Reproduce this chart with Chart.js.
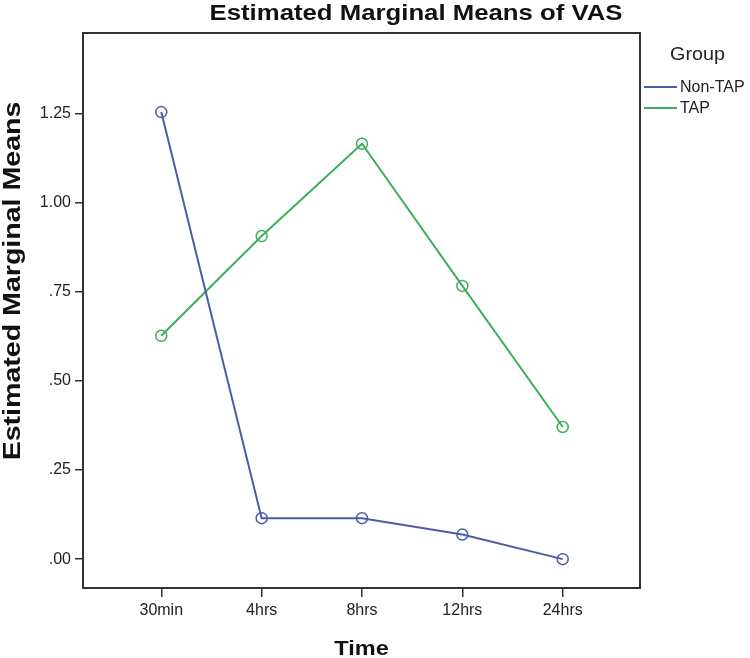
<!DOCTYPE html>
<html>
<head>
<meta charset="utf-8">
<script src="https://cdn.jsdelivr.net/npm/chart.js@4/dist/chart.umd.min.js"></script>
<style>
  html, body { margin: 0; padding: 0; background: #fff; }
  #wrap { width: 750px; height: 658px; }
</style>
</head>
<body>
<div id="wrap"><canvas id="c" width="750" height="658"></canvas></div>
<script>
const categories = ['30min', '4hrs', '8hrs', '12hrs', '24hrs'];
const nonTapValues = [1.255, 0.115, 0.115, 0.069, 0.0];
const tapValues = [0.627, 0.907, 1.166, 0.767, 0.371];
const yTickValues = [0, 0.25, 0.5, 0.75, 1.0, 1.25];
const seriesNames = ['Non-TAP', 'TAP'];
const chartTitle = 'Estimated Marginal Means of VAS';
const xTitle = 'Time';
const yTitle = 'Estimated Marginal Means';
const legendTitle = 'Group';

const FONT = "'Liberation Sans', Arial, sans-serif";
const C_NON = '#4e5ca6';
const C_TAP = '#3daf5a';
const AXIS = '#333333';

function fmt(v) {
  const s = v.toFixed(2);
  return v < 1 ? s.replace(/^0/, '') : s;
}

function drawStretched(ctx, text, x, y, font, sx, align) {
  ctx.save();
  ctx.font = font;
  const w = ctx.measureText(text).width * sx;
  let left = x;
  if (align === 'center') left = x - w / 2;
  ctx.translate(left, y);
  ctx.scale(sx, 1);
  ctx.textAlign = 'left';
  ctx.fillText(text, 0, 0);
  ctx.restore();
}

const decor = {
  id: 'decor',
  beforeDatasetsDraw(chart) {
    const { ctx, chartArea: a } = chart;
    ctx.save();
    ctx.strokeStyle = AXIS;
    ctx.lineWidth = 2;
    ctx.strokeRect(a.left, a.top, a.right - a.left, a.bottom - a.top);
    ctx.restore();
  },
  afterDraw(chart) {
    const { ctx, chartArea: a } = chart;
    ctx.save();
    ctx.fillStyle = '#111';
    ctx.textBaseline = 'alphabetic';
    // main title
    drawStretched(ctx, chartTitle, 416, 20, 'bold 22px ' + FONT, 1.17, 'center');
    // x axis title
    drawStretched(ctx, xTitle, (a.left + a.right) / 2, 655, 'bold 21px ' + FONT, 1.12, 'center');
    // y axis title
    ctx.save();
    ctx.translate(20, 281);
    ctx.rotate(-Math.PI / 2);
    drawStretched(ctx, yTitle, 0, 0, 'bold 24px ' + FONT, 1.19, 'center');
    ctx.restore();
    // legend
    ctx.fillStyle = '#222';
    drawStretched(ctx, legendTitle, 670, 60, '18px ' + FONT, 1.1, 'left');
    const items = [
      { name: seriesNames[0], color: C_NON, y: 87 },
      { name: seriesNames[1], color: C_TAP, y: 108 }
    ];
    items.forEach(it => {
      ctx.strokeStyle = it.color;
      ctx.lineWidth = 2;
      ctx.beginPath();
      ctx.moveTo(644, it.y);
      ctx.lineTo(677, it.y);
      ctx.stroke();
      ctx.font = '16px ' + FONT;
      ctx.textBaseline = 'middle';
      ctx.textAlign = 'left';
      ctx.fillText(it.name, 680, it.y + 1);
    });
    ctx.restore();
  }
};

const toPts = arr => arr.map((v, i) => ({ x: i, y: v }));

new Chart(document.getElementById('c'), {
  type: 'line',
  data: {
    datasets: [
      {
        label: seriesNames[0],
        data: toPts(nonTapValues),
        borderColor: C_NON,
        borderWidth: 2,
        pointRadius: 5.5,
        pointBorderWidth: 1.5,
        pointBorderColor: C_NON,
        pointBackgroundColor: 'rgba(0,0,0,0)',
        tension: 0
      },
      {
        label: seriesNames[1],
        data: toPts(tapValues),
        borderColor: C_TAP,
        borderWidth: 2,
        pointRadius: 5.5,
        pointBorderWidth: 1.5,
        pointBorderColor: C_TAP,
        pointBackgroundColor: 'rgba(0,0,0,0)',
        tension: 0
      }
    ]
  },
  options: {
    responsive: false,
    animation: false,
    devicePixelRatio: 1,
    layout: { padding: { left: 0, right: 110, top: 33, bottom: 0 } },
    plugins: {
      legend: { display: false },
      title: { display: false },
      tooltip: { enabled: false }
    },
    scales: {
      x: {
        type: 'linear',
        min: -0.78,
        max: 4.77,
        afterBuildTicks: s => { s.ticks = categories.map((_, i) => ({ value: i })); },
        afterFit: s => { s.height = 70; },
        border: { display: false },
        grid: { drawOnChartArea: false, drawTicks: true, tickLength: 9, color: AXIS, lineWidth: 1.5 },
        ticks: {
          callback: v => categories[v],
          font: { family: FONT, size: 16 },
          color: '#222',
          padding: 4,
          maxRotation: 0,
          autoSkip: false
        }
      },
      y: {
        type: 'linear',
        min: -0.081,
        max: 1.477,
        afterBuildTicks: s => { s.ticks = yTickValues.map(v => ({ value: v })); },
        afterFit: s => { s.width = 83; },
        border: { display: false },
        grid: { drawOnChartArea: false, drawTicks: true, tickLength: 8, color: AXIS, lineWidth: 1.5 },
        ticks: {
          callback: v => fmt(v),
          font: { family: FONT, size: 16 },
          color: '#222',
          padding: 4,
          autoSkip: false
        }
      }
    }
  },
  plugins: [decor]
});
</script>
</body>
</html>
